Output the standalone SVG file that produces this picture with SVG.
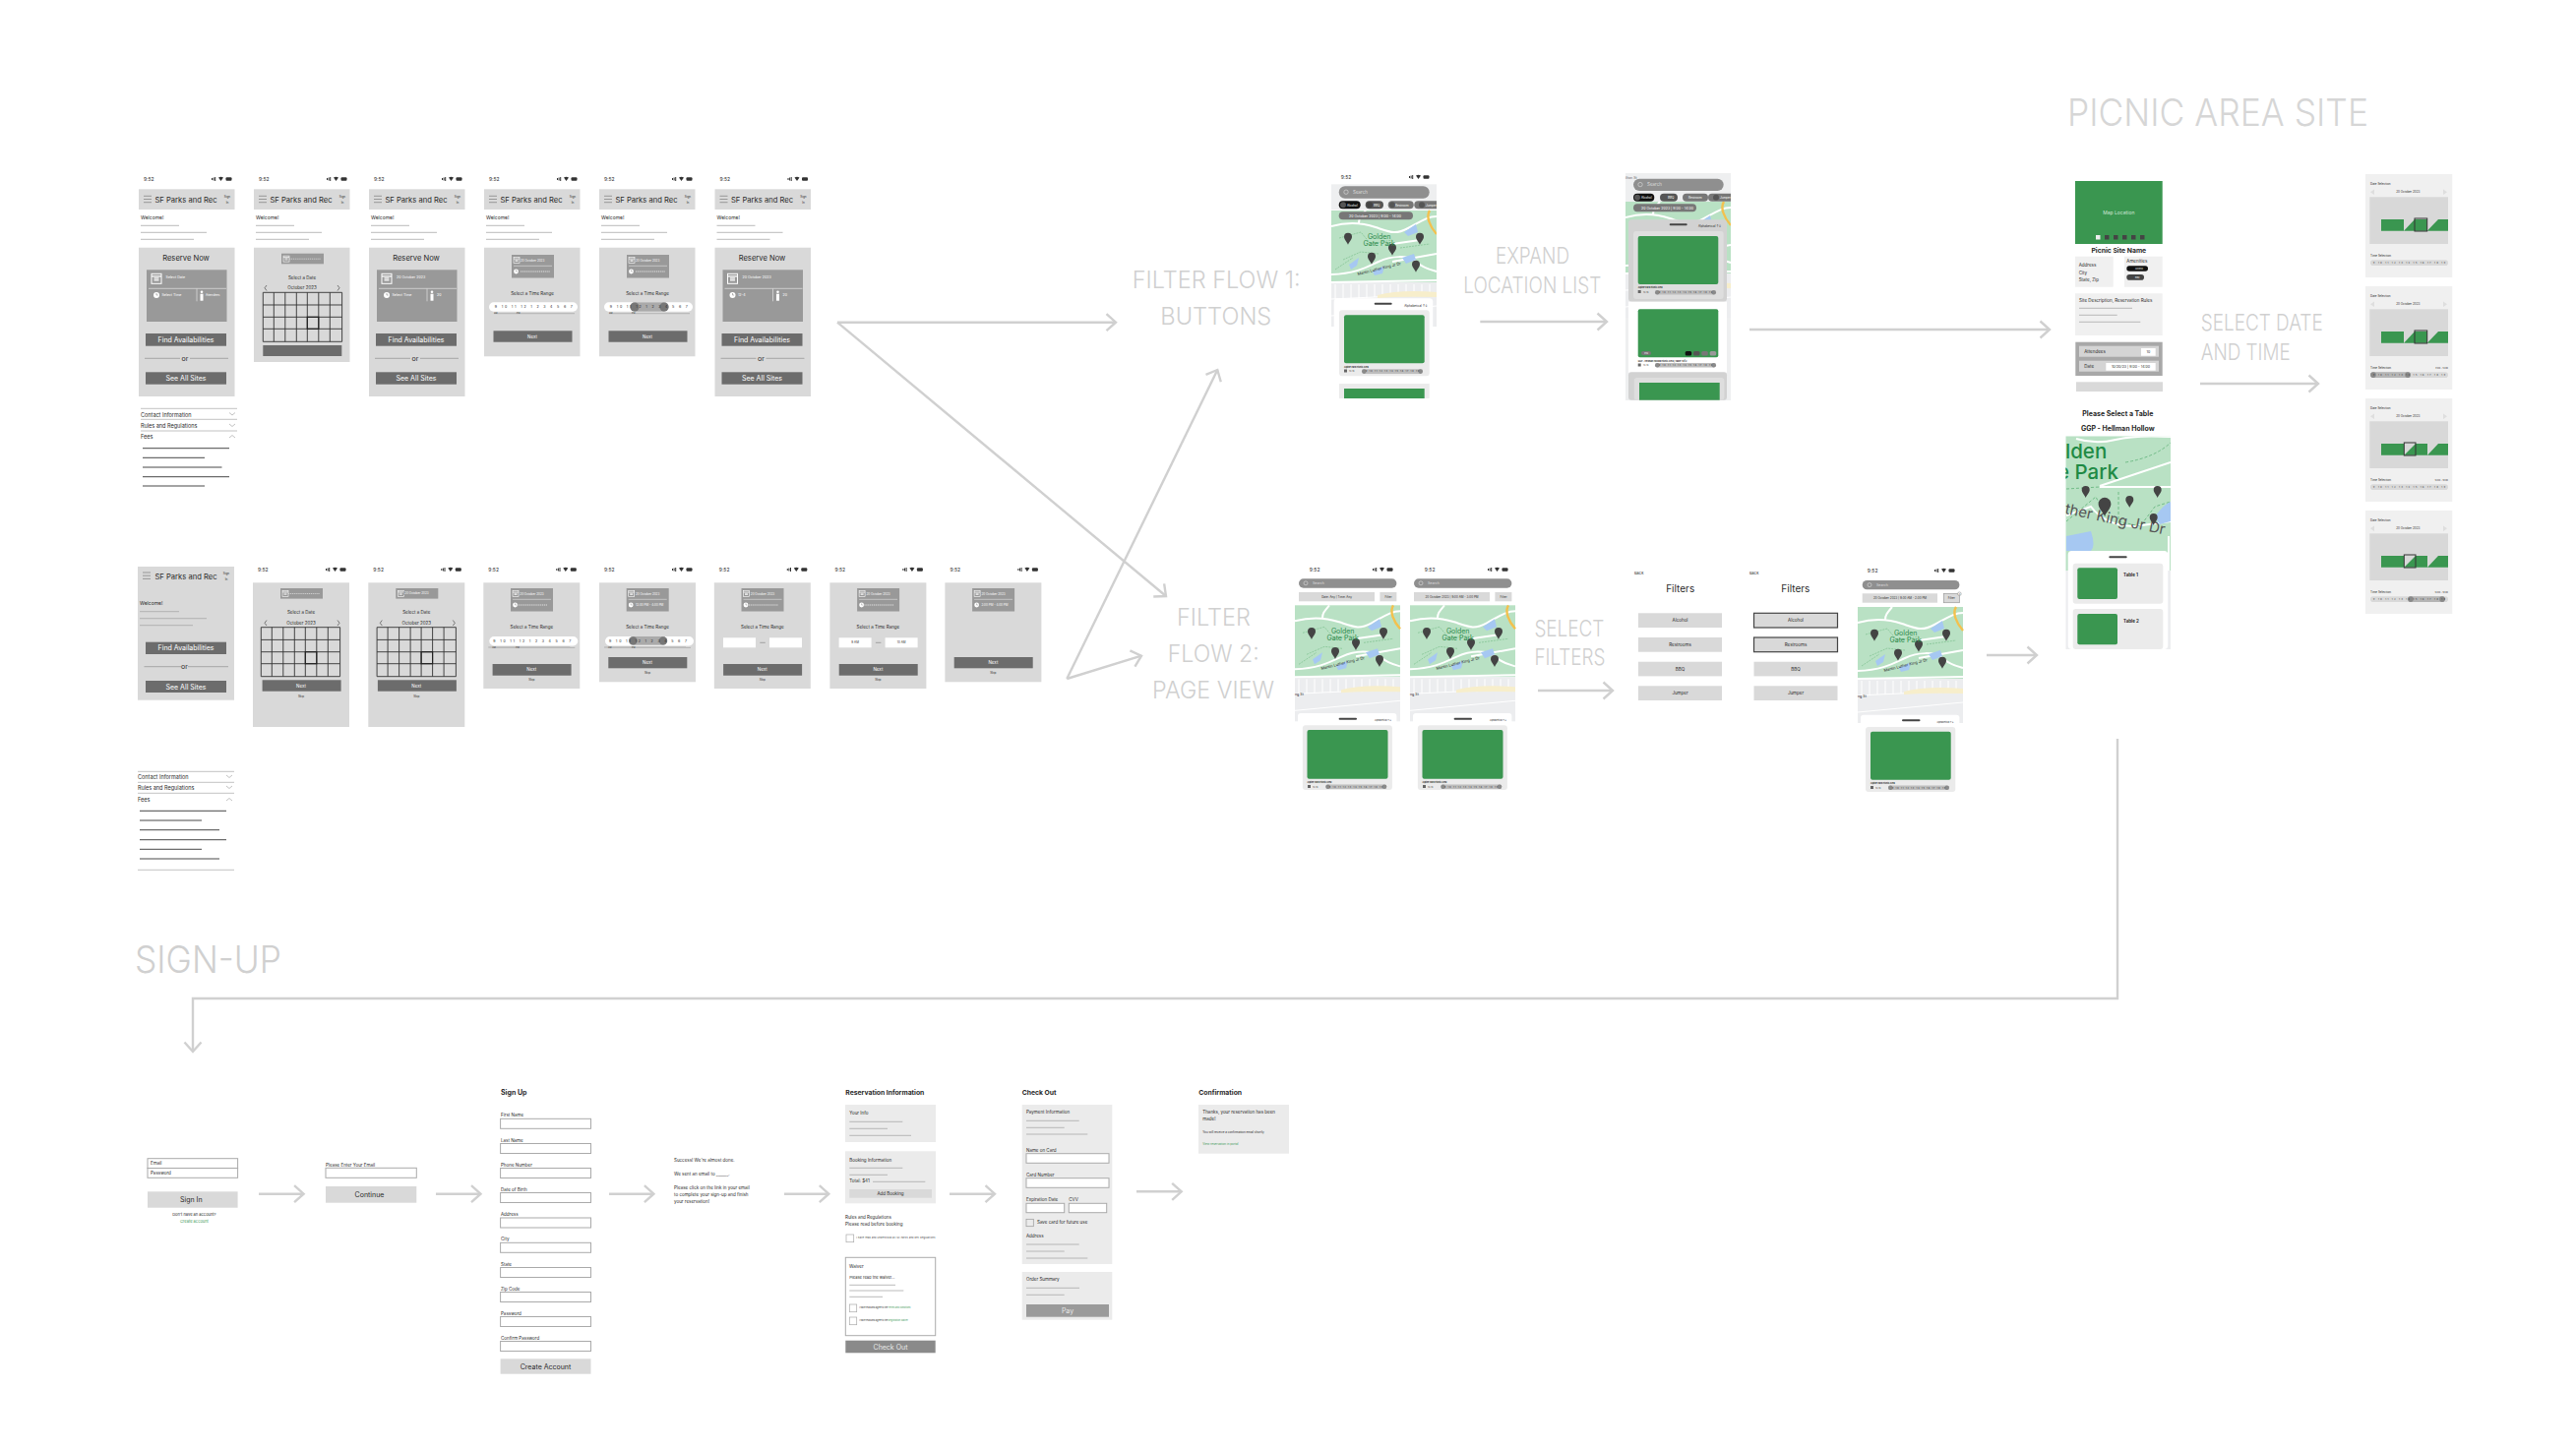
<svg xmlns="http://www.w3.org/2000/svg" width="2618" height="1473" viewBox="0 0 2618 1473">
<style>
text{font-family:Inter,"Liberation Sans",sans-serif;fill:#2a2a2a}
.m{text-anchor:middle}.e{text-anchor:end}
.w{fill:#fff}.b{font-weight:700}.gr{fill:#3f9a5a}.mut{fill:#666}
.s2{font-size:2.2px}.s3{font-size:3px}.s35{font-size:3.6px}.s4{font-size:4px}.s45{font-size:4.5px}.s5{font-size:5px}.s55{font-size:5.5px}.s6{font-size:6px}.s7{font-size:7px}.s8{font-size:7.6px}.s10{font-size:10px}
.h{font-size:24.5px;font-weight:300;fill:#d0d0d0}
.h2{font-size:23px;font-weight:300;fill:#d0d0d0}
.g{fill:#d9d9d9}.d{fill:#999}.k{fill:#6c6c6c}.l{fill:#ebebeb}.f{fill:#f0f0f0}.in{fill:#fff;stroke:#aaa;stroke-width:1}
.ln{stroke:#a8a8a8;stroke-width:.8;fill:none}.dk{stroke:#333;stroke-width:.9;fill:none}.acc{stroke:#bbb;stroke-width:.9;fill:none}
.img{fill:#3a9650}
.con{fill:none;stroke:#d0d0d0;stroke-width:2.4;marker-end:url(#ah)}
</style>
<defs>
<marker id="ah" markerUnits="userSpaceOnUse" markerWidth="24" markerHeight="24" refX="12" refY="12" orient="auto"><path d="M2.5 3.5L12 12L2.5 20.5" fill="none" stroke="#d0d0d0" stroke-width="2.4"/></marker>
<g id="status"><rect x="0" y="-1" width="1" height="2" fill="#333"/><rect x="1.6" y="-1.5" width="1" height="3" fill="#333"/><rect x="3.2" y="-2" width="1" height="4" fill="#333"/><path d="M7-1.5Q9.5-3.2 12-1.5L9.5 2Z" fill="#333"/><rect x="14.5" y="-1.8" width="6" height="3.6" rx="1" fill="#333"/></g>
<g id="burger"><path d="M0 0H8M0 3.2H8M0 6.4H8" stroke="#888" stroke-width=".8"/></g>
<g id="wlines"><path class="ln" d="M2 229.3H41M2 236.3H69M2 243.3H56"/></g>
<g id="calicon"><rect x="0" y="1" width="10" height="10" fill="none" stroke="#fff" stroke-width="1"/><path d="M0 3.5H10M2.5 5.5H7.5M2.5 7.5H7.5" stroke="#fff" stroke-width="1.2"/></g>
<g id="person"><circle cx="3" cy="1.3" r="1.3" fill="#fff"/><rect x="1.5" y="3.2" width="3" height="7" fill="#fff"/></g>
<g id="clock"><circle r="3" fill="#fff"/><path d="M0-2V0H1.6" stroke="#888" stroke-width=".6" fill="none"/></g>
<g id="innerbase"><rect class="d" width="81.5" height="52.7"/><path d="M2 19H81M51 19V32" stroke="#d9d9d9" stroke-width=".8" fill="none"/><use href="#calicon" x="5" y="3"/><use href="#clock" x="10" y="25.7"/></g>
<g id="box2"><rect class="d" width="43" height="23.5"/><path d="M2 11.3H41" stroke="#d9d9d9" stroke-width=".7"/><use href="#calicon" transform="translate(2 2) scale(.6)"/><use href="#clock" transform="translate(4.5 17) scale(.8)"/></g>
<g id="box1"><rect class="d" width="43" height="10.6"/><use href="#calicon" transform="translate(2 1.8) scale(.6)"/><path d="M8 5.5H40" stroke="#e4e4e4" stroke-width=".7" stroke-dasharray="1.2 .7"/></g>
<path id="dash" d="M0 0H30" stroke="#fff" stroke-width=".7" stroke-dasharray="1.2 .7"/>
<g id="cal"><path class="dk" d="M0 0H80.3V50H0ZM11 0V50M22.5 0V50M34 0V50M45 0V50M56.5 0V50M68 0V50M0 12.7H80.3M0 25H80.3M0 37H80.3"/><rect x="45" y="25" width="11.5" height="12" fill="none" stroke="#222" stroke-width="1.2"/></g>
<g id="slider"><rect width="90" height="9.4" rx="4.7" fill="#fff"/><path d="M5 11.4H87" stroke="#aaa" stroke-width=".8"/></g>
<path id="pin" fill="#444" d="M0 0C-1-3-4-5-4-8A4 4 0 1 1 4-8C4-5 1-3 0 0Z"/>
<g id="map">
<rect width="107" height="73" fill="#b9e1c4"/>
<rect y="73" width="107" height="45" fill="#ecedef"/>
<path d="M4 75V90M12 75V90M20 75V89M28 75V89M36 75V89M44 75V88M52 75V88M60 75V88M68 75V88M76 75V87M84 75V87M92 75V87M100 75V87M0 90L107 85M0 107L107 97" stroke="#fff" stroke-width="1" fill="none"/>
<path d="M47 86Q70 80 107 83V88Q70 87 47 89Z" fill="#f7eecb"/>
<path d="M0 16C15 12 30 12 45 17S65 25 78 18S98 6 107 6M35 0C30 6 28 8 28 13M62 52L107 44M0 65C25 64 35 58 48 52S78 45 86 52S100 60 107 62M62 34L90 30M0 73L107 71" stroke="#fff" stroke-width="2" fill="none"/>
<path d="M100 0C96 6 100 16 107 24" stroke="#f3c14e" stroke-width="2.4" fill="none"/>
<path d="M8 28L30 22L40 34L62 30M12 50L30 42L48 44M70 38L100 34M4 60L22 48" stroke="#7cc08e" stroke-width=".7" stroke-dasharray="2 1" fill="none"/>
<path d="M74 22L86 14L88 22L78 26Z" fill="#a6c8f2"/>
<path d="M18 55L28 48L26 56L20 60Z" fill="#a6c8f2"/>
<path d="M72 48L84 44L86 50L76 54Z" fill="#a6c8f2"/>
<path d="M42 62L54 56L52 64L44 66Z" fill="#a6c8f2"/>
<use href="#pin" x="17" y="34.7"/><use href="#pin" x="62" y="45.7"/><use href="#pin" x="41" y="54.7"/><use href="#pin" x="90" y="34.7"/><use href="#pin" x="86" y="62.7"/>
</g>
<g id="sheet"><rect width="100.6" height="80" rx="3.5" fill="#fff"/><rect x="41" y="4.5" width="18" height="2" rx="1" fill="#444"/></g>
<g id="card"><rect width="91.7" height="67" rx="3" class="l"/><rect x="5" y="5" width="81.7" height="49" rx="2" class="img"/></g>
<g id="tpill"><rect width="62" height="4.6" rx="2.3" fill="#bdbdbd"/><circle cx="2.3" cy="2.3" r="2.3" fill="#8a8a8a"/><circle cx="59.7" cy="2.3" r="2.3" fill="#8a8a8a"/></g>
<g id="dpanel"><rect width="88.3" height="105" class="f"/><rect x="4.3" y="23.3" width="79.7" height="47.7" fill="#d8d8d8"/><path d="M9 15.5V21L5 18.3ZM79 15.5V21L83 18.3Z" fill="#dedede"/><rect x="5" y="87.3" width="79" height="5.7" rx="2.8" fill="#d9d9d9"/></g>
<clipPath id="hm"><rect x="2099.3" y="443.3" width="106.7" height="216.7"/></clipPath>
<clipPath id="ca"><rect x="1353" y="180" width="107" height="225"/></clipPath>
<clipPath id="cb"><rect x="1652" y="176" width="107" height="231"/></clipPath>
</defs>

<g id="title-picnic"><text x="2101" y="128" textLength="306" lengthAdjust="spacingAndGlyphs" style="font-size:38.5px;font-weight:300;fill:#d6d6d6">PICNIC AREA SITE</text></g>
<g id="title-signup"><text x="137" y="989" textLength="149" lengthAdjust="spacingAndGlyphs" style="font-size:38px;font-weight:300;fill:#d0d0d0">SIGN-UP</text></g>
<g id="label-filter1"><text class="h" x="1150.7" y="292.7" textLength="171" lengthAdjust="spacingAndGlyphs">FILTER FLOW 1:</text><text class="h" x="1179.3" y="330" textLength="113" lengthAdjust="spacingAndGlyphs">BUTTONS</text></g>
<g id="label-filter2"><text class="h" x="1196" y="636" textLength="75" lengthAdjust="spacingAndGlyphs">FILTER</text><text class="h" x="1186.7" y="672.7" textLength="93" lengthAdjust="spacingAndGlyphs">FLOW 2:</text><text class="h" x="1171" y="710" textLength="124" lengthAdjust="spacingAndGlyphs">PAGE VIEW</text></g>
<g id="label-expand"><text class="h2" x="1520" y="268.3" textLength="75" lengthAdjust="spacingAndGlyphs">EXPAND</text><text class="h2" x="1487.3" y="298.3" textLength="140" lengthAdjust="spacingAndGlyphs">LOCATION LIST</text></g>
<g id="label-date"><text class="h2" x="2236.7" y="335.7" textLength="124" lengthAdjust="spacingAndGlyphs">SELECT DATE</text><text class="h2" x="2236.7" y="365.7" textLength="91" lengthAdjust="spacingAndGlyphs">AND TIME</text></g>
<g id="label-filters"><text class="h2" x="1559.4" y="646.7" textLength="71" lengthAdjust="spacingAndGlyphs">SELECT</text><text class="h2" x="1559.4" y="676" textLength="72" lengthAdjust="spacingAndGlyphs">FILTERS</text></g>

<g id="connectors">
<path class="con" d="M851 327.7H1134"/><path class="con" d="M851 327.7L1185 606"/>
<path class="con" d="M1084.3 690L1237.3 376"/><path class="con" d="M1084.3 690L1160 666.7"/>
<path class="con" d="M1504.3 327H1633"/><path class="con" d="M1778 335H2083"/><path class="con" d="M2236 390H2356"/>
<path class="con" d="M1563 702H1639"/><path class="con" d="M2019 666H2070"/>
<path class="con" d="M2152 751V1015H196V1069"/>
<path class="con" d="M263 1213.7H308.6"/><path class="con" d="M443 1213.7H488.5"/><path class="con" d="M619 1213.7H664.4"/><path class="con" d="M797 1213.7H842.3"/><path class="con" d="M965 1213.7H1011"/><path class="con" d="M1155 1211.3H1200.7"/>
</g>

<!-- ROW 1 -->
<g id="r1-s1" transform="translate(141 0)">
<text class="s5" x="5" y="184">9:52</text><use href="#status" x="74" y="182"/>
<rect class="g" y="192.3" width="97.5" height="20.7"/><use href="#burger" x="5" y="199.3"/>
<text class="s8 m" x="48" y="206">SF Parks and Rec</text><text class="s3 m" x="90" y="201">Sign</text><text class="s3 m" x="90" y="206.8">In</text>
<text class="s5" x="2" y="222.5">Welcome!</text><use href="#wlines"/>
<rect class="g" y="251.7" width="97.5" height="151.3"/>
<text class="s8 m" x="48" y="265">Reserve Now</text>
<use href="#innerbase" x="8" y="274.3"/><use href="#person" x="61" y="295.5"/>
<text class="s35 w" x="27.6" y="283.2">Select Date</text><text class="s35 w" x="23.4" y="301.2">Select Time</text><text class="s3 w" x="68" y="301">Attendees</text>
<rect class="k" x="7" y="339" width="82" height="12.7"/><text class="s7 m w" x="48" y="348">Find Availabilities</text>
<path d="M6 364.3H42M52 364.3H91" stroke="#999" stroke-width=".8"/><text class="s7 m" x="47" y="367">or</text>
<rect class="k" x="7" y="378.3" width="82" height="12.4"/><text class="s7 m w" x="48" y="387">See All Sites</text>
<path class="acc" d="M2 415.3H100M2 426.3H100M2 438H100"/>
<text class="s55" x="2" y="423.5">Contact Information</text><text class="s55" x="2" y="434.5">Rules and Regulations</text><text class="s55" x="2" y="446.2">Fees</text>
<path d="M92 419.5L95 422L98 419.5M92 431L95 433.5L98 431M92 445L95 442.5L98 445" fill="none" stroke="#999" stroke-width=".6"/>
<path class="dk" d="M4 455.7H92M4 465.3H67M4 475H84.5M4 484.7H92M4 494H67"/>
</g>
<g id="r1-s2" transform="translate(258 0)">
<text class="s5" x="5" y="184">9:52</text><use href="#status" x="74" y="182"/>
<rect class="g" y="192.3" width="97.5" height="20.7"/><use href="#burger" x="5" y="199.3"/>
<text class="s8 m" x="48" y="206">SF Parks and Rec</text><text class="s3 m" x="90" y="201">Sign</text><text class="s3 m" x="90" y="206.8">In</text>
<text class="s5" x="2" y="222.5">Welcome!</text><use href="#wlines"/>
<rect class="g" y="251.7" width="97.5" height="116.3"/>
<use href="#box1" x="28" y="257.7"/>
<text class="s45 m" x="49" y="283.6">Select a Date</text><text class="s45 m" x="49" y="294.4">October 2023</text>
<path d="M13 290L11 292.7L13 295.5M85 290L87 292.7L85 295.5" fill="none" stroke="#333" stroke-width=".6"/>
<use href="#cal" x="9.3" y="297.3"/>
<rect class="k" x="9.3" y="351" width="80" height="11"/>
</g>
<g id="r1-s3" transform="translate(375 0)">
<text class="s5" x="5" y="184">9:52</text><use href="#status" x="74" y="182"/>
<rect class="g" y="192.3" width="97.5" height="20.7"/><use href="#burger" x="5" y="199.3"/>
<text class="s8 m" x="48" y="206">SF Parks and Rec</text><text class="s3 m" x="90" y="201">Sign</text><text class="s3 m" x="90" y="206.8">In</text>
<text class="s5" x="2" y="222.5">Welcome!</text><use href="#wlines"/>
<rect class="g" y="251.7" width="97.5" height="151.3"/>
<text class="s8 m" x="48" y="265">Reserve Now</text>
<use href="#innerbase" x="8" y="274.3"/><use href="#person" x="61" y="295.5"/>
<text class="s35 w" x="28" y="283.2">20 October 2023</text><text class="s35 w" x="23.4" y="301.2">Select Time</text><text class="s35 w" x="69" y="301.2">20</text>
<rect class="k" x="7" y="339" width="82" height="12.7"/><text class="s7 m w" x="48" y="348">Find Availabilities</text>
<path d="M6 364.3H42M52 364.3H91" stroke="#999" stroke-width=".8"/><text class="s7 m" x="47" y="367">or</text>
<rect class="k" x="7" y="378.3" width="82" height="12.4"/><text class="s7 m w" x="48" y="387">See All Sites</text>
</g>
<g id="r1-s4" transform="translate(492 0)">
<text class="s5" x="5" y="184">9:52</text><use href="#status" x="74" y="182"/>
<rect class="g" y="192.3" width="97.5" height="20.7"/><use href="#burger" x="5" y="199.3"/>
<text class="s8 m" x="48" y="206">SF Parks and Rec</text><text class="s3 m" x="90" y="201">Sign</text><text class="s3 m" x="90" y="206.8">In</text>
<text class="s5" x="2" y="222.5">Welcome!</text><use href="#wlines"/>
<rect class="g" y="251.7" width="97.5" height="110.6"/>
<use href="#box2" x="28" y="259"/><text class="s3 w" x="37" y="266">20 October 2023</text><use href="#dash" x="37" y="276"/>
<text class="s45 m" x="49" y="300">Select a Time Range</text>
<use href="#slider" x="5" y="307.3"/><text class="s35" x="10.8" y="313.3" textLength="79">9 10 11 12 1 2 3 4 5 6 7</text><text class="s2" x="10" y="319">AM</text><text class="s2" x="33" y="319">PM</text>
<rect class="k" x="9.5" y="336.3" width="80" height="11.4"/><text class="s45 m w" x="49" y="343.6">Next</text>
</g>
<g id="r1-s5" transform="translate(609 0)">
<text class="s5" x="5" y="184">9:52</text><use href="#status" x="74" y="182"/>
<rect class="g" y="192.3" width="97.5" height="20.7"/><use href="#burger" x="5" y="199.3"/>
<text class="s8 m" x="48" y="206">SF Parks and Rec</text><text class="s3 m" x="90" y="201">Sign</text><text class="s3 m" x="90" y="206.8">In</text>
<text class="s5" x="2" y="222.5">Welcome!</text><use href="#wlines"/>
<rect class="g" y="251.7" width="97.5" height="110.6"/>
<use href="#box2" x="28" y="259"/><text class="s3 w" x="37" y="266">20 October 2023</text><use href="#dash" x="37" y="276"/>
<text class="s45 m" x="49" y="300">Select a Time Range</text>
<use href="#slider" x="5" y="307.3"/><rect x="31.5" y="307.3" width="39" height="9.4" rx="4.7" fill="#aaa"/><circle cx="36" cy="312" r="4.6" fill="#777"/><circle cx="66" cy="312" r="4.6" fill="#777"/><text class="s35" x="10.8" y="313.3" textLength="79">9 10 11 12 1 2 3 4 5 6 7</text><text class="s2" x="10" y="319">AM</text><text class="s2" x="33" y="319">PM</text>
<rect class="k" x="9.5" y="336.3" width="80" height="11.4"/><text class="s45 m w" x="49" y="343.6">Next</text>
</g>
<g id="r1-s6" transform="translate(726.5 0)">
<text class="s5" x="5" y="184">9:52</text><use href="#status" x="74" y="182"/>
<rect class="g" y="192.3" width="97.5" height="20.7"/><use href="#burger" x="5" y="199.3"/>
<text class="s8 m" x="48" y="206">SF Parks and Rec</text><text class="s3 m" x="90" y="201">Sign</text><text class="s3 m" x="90" y="206.8">In</text>
<text class="s5" x="2" y="222.5">Welcome!</text><use href="#wlines"/>
<rect class="g" y="251.7" width="97.5" height="151.3"/>
<text class="s8 m" x="48" y="265">Reserve Now</text>
<use href="#innerbase" x="8" y="274.3"/><use href="#person" x="61" y="295.5"/>
<text class="s35 w" x="28" y="283.2">20 October 2023</text><text class="s35 w" x="23.4" y="301.2">12-4</text><text class="s35 w" x="69" y="301.2">20</text>
<rect class="k" x="7" y="339" width="82" height="12.7"/><text class="s7 m w" x="48" y="348">Find Availabilities</text>
<path d="M6 364.3H42M52 364.3H91" stroke="#999" stroke-width=".8"/><text class="s7 m" x="47" y="367">or</text>
<rect class="k" x="7" y="378.3" width="82" height="12.4"/><text class="s7 m w" x="48" y="387">See All Sites</text>
</g>

<!-- ROW 2 -->
<g id="r2-s1" transform="translate(140 0)">
<rect class="g" y="576" width="98" height="135.7"/><use href="#burger" x="5" y="582"/>
<text class="s8 m" x="49" y="589">SF Parks and Rec</text><text class="s3 m" x="90" y="584">Sign</text><text class="s3 m" x="90" y="589.8">In</text>
<text class="s5" x="2" y="614.8">Welcome!</text><path class="ln" d="M2 621.7H42M2 628.7H70M2 635.7H56"/>
<rect class="k" x="8" y="652.7" width="82" height="12.3"/><text class="s7 m w" x="49" y="661.4">Find Availabilities</text>
<path d="M6.5 677.7H44M51 677.7H92" stroke="#999" stroke-width=".8"/><text class="s7 m" x="47.5" y="680.4">or</text>
<rect class="k" x="8" y="692" width="82" height="12"/><text class="s7 m w" x="49" y="700.5">See All Sites</text>
<path class="acc" d="M0 784.3H98M0 795.3H98M0 806.3H98M0 884.3H98"/>
<text class="s55" x="0" y="792">Contact Information</text><text class="s55" x="0" y="803.2">Rules and Regulations</text><text class="s55" x="0" y="815.2">Fees</text>
<path d="M90 788L93 790.5L96 788M90 799L93 801.5L96 799M90 814L93 811.5L96 814" fill="none" stroke="#999" stroke-width=".6"/>
<path class="dk" d="M2 824.3H90M2 834H65M2 843.7H83M2 853.7H90M2 863.3H65M2 873H83"/>
</g>
<g id="r2-s2" transform="translate(257 0)">
<text class="s5" x="5" y="581">9:52</text><use href="#status" x="74" y="579"/>
<rect class="g" y="592.3" width="98" height="146.7"/><use href="#box1" x="28" y="598"/>
<text class="s45 m" x="49" y="624">Select a Date</text><text class="s45 m" x="49" y="635">October 2023</text>
<path d="M14 630.5L12 633.3L14 636M86 630.5L88 633.3L86 636" fill="none" stroke="#333" stroke-width=".6"/>
<use href="#cal" x="8.3" y="637.7"/>
<rect class="k" x="9.6" y="691.3" width="80" height="11.4"/><text class="s45 m w" x="49" y="698.5">Next</text><text class="s3 m" x="49" y="708.8">Skip</text>
</g>
<g id="r2-s3" transform="translate(374.3 0)">
<text class="s5" x="5" y="581">9:52</text><use href="#status" x="74" y="579"/>
<rect class="g" y="592.3" width="98" height="146.7"/><use href="#box1" x="28" y="598"/><rect x="36" y="601" width="32" height="4" fill="#999"/><text class="s3 w" x="37" y="604.2">20 October 2023</text>
<text class="s45 m" x="49" y="624">Select a Date</text><text class="s45 m" x="49" y="635">October 2023</text>
<path d="M14 630.5L12 633.3L14 636M86 630.5L88 633.3L86 636" fill="none" stroke="#333" stroke-width=".6"/>
<use href="#cal" x="8.8" y="637.7"/>
<rect class="k" x="9.6" y="691.3" width="80" height="11.4"/><text class="s45 m w" x="49" y="698.5">Next</text><text class="s3 m" x="49" y="708.8">Skip</text>
</g>
<g id="r2-s4" transform="translate(491.3 0)">
<text class="s5" x="5" y="581">9:52</text><use href="#status" x="74" y="579"/>
<rect class="g" y="592.3" width="98" height="107.7"/><use href="#box2" x="27.7" y="598"/><text class="s3 w" x="37" y="605">20 October 2023</text><use href="#dash" x="35" y="615"/>
<text class="s45 m" x="49" y="639.3">Select a Time Range</text>
<use href="#slider" x="6" y="647"/><text class="s35" x="10" y="653" textLength="79">9 10 11 12 1 2 3 4 5 6 7</text><path d="M5 658H88" stroke="#bbb" stroke-width="1.4"/><text class="s2" x="9" y="658.8">AM</text><text class="s2" x="33" y="658.8">PM</text>
<rect class="k" x="9.3" y="675" width="80" height="11.7"/><text class="s45 m w" x="49" y="682.4">Next</text><text class="s3 m" x="49" y="692.4">Skip</text>
</g>
<g id="r2-s5" transform="translate(609 0)">
<text class="s5" x="5" y="581">9:52</text><use href="#status" x="74" y="579"/>
<rect class="g" y="592.3" width="98" height="101"/><use href="#box2" x="27.7" y="598"/><text class="s3 w" x="37" y="605">20 October 2023</text><text class="s3 w" x="37" y="616">12:00 PM - 4:00 PM</text>
<text class="s45 m" x="49" y="639.3">Select a Time Range</text>
<use href="#slider" x="6" y="647"/><rect x="30" y="647" width="39" height="8.7" rx="4.3" fill="#aaa"/><circle cx="34.5" cy="651.4" r="4.2" fill="#777"/><circle cx="65" cy="651.4" r="4.2" fill="#777"/><text class="s35" x="10" y="653" textLength="79">9 10 11 12 1 2 3 4 5 6 7</text><path d="M5 658H88" stroke="#bbb" stroke-width="1.4"/><text class="s2" x="9" y="658.8">AM</text><text class="s2" x="33" y="658.8">PM</text>
<rect class="k" x="9.3" y="668" width="80" height="11.3"/><text class="s45 m w" x="49" y="675.2">Next</text><text class="s3 m" x="49" y="685.2">Skip</text>
</g>
<g id="r2-s6" transform="translate(725.8 0)">
<text class="s5" x="5" y="581">9:52</text><use href="#status" x="74" y="579"/>
<rect class="g" y="592.3" width="98" height="107.7"/><use href="#box2" x="27.7" y="598"/><text class="s3 w" x="37" y="605">20 October 2023</text><use href="#dash" x="35" y="615"/>
<text class="s45 m" x="49" y="639.3">Select a Time Range</text>
<rect x="9.2" y="648.3" width="33" height="10" fill="#fff"/><rect x="56.2" y="648.3" width="33" height="10" fill="#fff"/><path d="M46.5 653.3H52" stroke="#888" stroke-width=".7"/>
<rect class="k" x="9.3" y="675" width="80" height="11.7"/><text class="s45 m w" x="49" y="682.4">Next</text><text class="s3 m" x="49" y="692.4">Skip</text>
</g>
<g id="r2-s7" transform="translate(843.4 0)">
<text class="s5" x="5" y="581">9:52</text><use href="#status" x="74" y="579"/>
<rect class="g" y="592.3" width="98" height="107.7"/><use href="#box2" x="27.7" y="598"/><text class="s3 w" x="37" y="605">20 October 2023</text><use href="#dash" x="35" y="615"/>
<text class="s45 m" x="49" y="639.3">Select a Time Range</text>
<rect x="9.2" y="648.3" width="33" height="10" fill="#fff"/><rect x="56.2" y="648.3" width="33" height="10" fill="#fff"/><path d="M46.5 653.3H52" stroke="#888" stroke-width=".7"/><text class="s3 m" x="25.7" y="654.4">9 AM</text><text class="s3 m" x="72.7" y="654.4">10 AM</text>
<rect class="k" x="9.3" y="675" width="80" height="11.7"/><text class="s45 m w" x="49" y="682.4">Next</text><text class="s3 m" x="49" y="692.4">Skip</text>
</g>
<g id="r2-s8" transform="translate(960.4 0)">
<text class="s5" x="5" y="581">9:52</text><use href="#status" x="74" y="579"/>
<rect class="g" y="592.3" width="98" height="101"/><use href="#box2" x="27.7" y="598"/><text class="s3 w" x="37" y="605">20 October 2023</text><text class="s3 w" x="37" y="616">2:00 PM - 4:00 PM</text>
<rect class="k" x="9.3" y="668" width="80" height="11.3"/><text class="s45 m w" x="49" y="675.2">Next</text><text class="s3 m" x="49" y="685.2">Skip</text>
</g>

<!-- FILTER FLOW 1 -->
<g id="flow1-a">
<text class="s5" x="1362.7" y="182">9:52</text><use href="#status" x="1432" y="180"/>
<rect x="1353" y="187.3" width="107" height="26" fill="#eeeff0"/>
<g clip-path="url(#ca)"><use href="#map" x="1353" y="214"/></g>
<text class="s7 m" x="1401.7" y="243" style="fill:#2a8a4a">Golden</text><text class="s7 m" x="1401.7" y="250" style="fill:#2a8a4a">Gate Park</text>
<text class="s4" transform="translate(1380 280) rotate(-14)">Martin Luther King Jr Dr</text>
<rect x="1360.7" y="189.3" width="92" height="12.4" rx="6.2" fill="#8f8f8f"/><circle cx="1368" cy="195.2" r="2.2" fill="none" stroke="#ddd" stroke-width=".6"/><text class="s45" x="1375" y="197" style="fill:#ddd">Search</text>
<rect x="1360.7" y="204.3" width="22" height="8" rx="4" fill="#111"/><circle cx="1365" cy="208.3" r="3" fill="#555"/><text class="s3 w" x="1369" y="209.5">Alcohol</text>
<rect x="1387.7" y="204.3" width="18.3" height="8" rx="4" fill="#555"/><circle cx="1392" cy="208.3" r="3" fill="#444"/><text class="s3 w" x="1396" y="209.5">BBQ</text>
<rect x="1410.7" y="204.3" width="26" height="8" rx="4" fill="#777"/><circle cx="1415" cy="208.3" r="3" fill="#555"/><text class="s3 w" x="1418" y="209.5">Restroom</text>
<path d="M1441.3 204.3H1460V212.3H1441.3A4 4 0 0 1 1441.3 204.3Z" fill="#777"/><circle cx="1445" cy="208.3" r="3" fill="#555"/><text class="s3 w" x="1449" y="209.5">Jumper</text>
<rect x="1360.7" y="215.3" width="75.3" height="8" rx="4" fill="#777"/><text class="s35 w" x="1371" y="220.6">20 October 2023 | 9:00 - 14:00</text>
<use href="#sheet" x="1355.7" y="303.3" /><rect x="1355.7" y="380" width="100.6" height="25" fill="#fff"/>
<use href="#card" x="1361" y="315.3"/><text class="s2 b" x="1366" y="373.5">Alpine Park Picnic Area</text><rect x="1366" y="375.5" width="3" height="3" fill="#666"/><text class="s2" x="1371" y="378">12-14</text><use href="#tpill" x="1384" y="375.3"/><text class="s2" x="1388" y="378.4" textLength="54">9 10 11 12 13 14 15 16 17 18 19</text>
<text class="s3 e" x="1450.7" y="311.5">Alphabetical ↑↓</text>
<rect x="1361" y="390" width="91.7" height="15" class="l"/><rect x="1366" y="395" width="81.7" height="10" class="img"/>
</g>
<g id="flow1-b">
<rect x="1652" y="176" width="107" height="231" fill="#eeeff0"/>
<g clip-path="url(#cb)"><use href="#map" x="1652" y="205"/></g>
<rect x="1655" y="223.3" width="100" height="83.4" rx="3.5" fill="#d2d2d2"/>
<text class="s35 mut" x="1652" y="182">ilton St</text>
<rect x="1660" y="181.7" width="91.7" height="12.3" rx="6.2" fill="#8f8f8f"/><circle cx="1667" cy="187.6" r="2.2" fill="none" stroke="#ddd" stroke-width=".6"/><text class="s45" x="1674" y="189.4" style="fill:#ddd">Search</text>
<rect x="1660" y="196.7" width="21.3" height="8" rx="4" fill="#111"/><circle cx="1664" cy="200.7" r="3" fill="#555"/><text class="s3 w" x="1668" y="201.9">Alcohol</text>
<rect x="1687" y="196.7" width="18" height="8" rx="4" fill="#555"/><text class="s3 w" x="1695" y="201.9">BBQ</text>
<rect x="1710" y="196.7" width="26" height="8" rx="4" fill="#777"/><text class="s3 w" x="1716" y="201.9">Restroom</text>
<path d="M1740 196.7H1759V204.7H1740A4 4 0 0 1 1740 196.7Z" fill="#777"/><circle cx="1744" cy="200.7" r="3" fill="#555"/><text class="s3 w" x="1748" y="201.9">Jumper</text>
<rect x="1660" y="207.3" width="64" height="8" rx="4" fill="#777"/><text class="s35 w" x="1668" y="212.6">20 October 2023 | 9:00 - 14:00</text>
<rect x="1696.7" y="227.3" width="18" height="2" rx="1" fill="#444"/><text class="s3 e" x="1749.3" y="231">Alphabetical ↑↓</text>
<rect x="1660" y="235" width="91.7" height="69" rx="3" fill="#dedede"/><rect x="1664.7" y="240" width="81.6" height="49" rx="2" class="img"/><text class="s2 b" x="1664.7" y="293">Alpine Park Picnic Area</text><rect x="1664.7" y="295" width="3" height="3" fill="#666"/><text class="s2" x="1670" y="297.7">12-14</text><use href="#tpill" x="1682" y="295"/><text class="s2" x="1686" y="298" textLength="54">9 10 11 12 13 14 15 16 17 18 19</text>
<rect x="1655" y="306.7" width="100" height="72" fill="#fff"/><rect x="1660" y="309.3" width="91.7" height="69" fill="#fff"/><rect x="1664.7" y="314.3" width="81.6" height="49" rx="2" class="img"/>
<rect x="1668" y="357" width="10" height="4" rx="2" fill="#777"/><text class="s2 w m" x="1673" y="359.8">PIN</text><rect x="1712.7" y="357" width="6.5" height="4.4" rx="1.5" fill="#111"/><rect x="1721" y="357" width="6.5" height="4.4" rx="1.5" fill="#555"/><rect x="1729.3" y="357" width="6.5" height="4.4" rx="1.5" fill="#777"/><rect x="1737.7" y="357" width="6.5" height="4.4" rx="1.5" fill="#999"/>
<text class="s2 b" x="1664.7" y="368">GGP - Hellman Hollow Picnic Area | Table 1 of 2</text><rect x="1664.7" y="369.5" width="3" height="3" fill="#666"/><text class="s2" x="1670" y="372">12-14</text><use href="#tpill" x="1682" y="369"/><text class="s2" x="1686" y="372.2" textLength="54">9 10 11 12 13 14 15 16 17 18 19</text>
<rect x="1655" y="378.3" width="100" height="28.4" rx="3" fill="#d2d2d2"/><rect x="1660.7" y="384" width="91.7" height="22.7" rx="3" fill="#dedede"/><rect x="1666" y="389" width="81.7" height="17.7" class="img"/>
</g>

<!-- FILTER FLOW 2 -->
<g id="flow2-c">
<text class="s5" x="1330.8" y="581">9:52</text><use href="#status" x="1395" y="579"/>
<use href="#map" x="1316" y="615.3"/>
<text class="s7 m" x="1364.7" y="644" style="fill:#2a8a4a">Golden</text><text class="s7 m" x="1364.7" y="651" style="fill:#2a8a4a">Gate Park</text>
<text class="s4" transform="translate(1343 681) rotate(-14)">Martin Luther King Jr Dr</text><text class="s35" x="1316" y="707">ng St</text>
<rect x="1320" y="588.3" width="99.4" height="9.4" rx="4.7" fill="#8f8f8f"/><circle cx="1327" cy="592.8" r="2" fill="none" stroke="#ddd" stroke-width=".6"/><text class="s35" x="1334" y="594.4" style="fill:#ddd">Search</text>
<rect class="g" x="1320" y="602" width="77" height="9.3"/><text class="s3 m" x="1358.5" y="607.8">Date: Any | Time: Any</text>
<rect class="g" x="1402.4" y="602" width="17" height="9.3"/><text class="s3 m" x="1411" y="607.8">Filter</text>
<rect x="1319" y="725" width="100.4" height="78" rx="3" fill="#fff"/><rect x="1360.6" y="729.7" width="18.4" height="2" rx="1" fill="#444"/><text class="s2 e" x="1414" y="733">Alphabetical ↑↓</text>
<rect x="1323.9" y="737.3" width="91" height="65.7" rx="3" class="l"/><rect x="1328.5" y="742" width="82" height="49.7" rx="2" class="img"/><text class="s2 b" x="1328.5" y="795.5">Alpine Park Picnic Area</text><rect x="1329" y="798" width="3" height="3" fill="#666"/><text class="s2" x="1334" y="800.5">12-14</text><use href="#tpill" x="1347.3" y="797.5"/><text class="s2" x="1351" y="800.6" textLength="54">9 10 11 12 13 14 15 16 17 18 19</text>
</g>
<g id="flow2-d">
<text class="s5" x="1447.8" y="581">9:52</text><use href="#status" x="1512" y="579"/>
<use href="#map" x="1433" y="615.3"/>
<text class="s7 m" x="1481.7" y="644" style="fill:#2a8a4a">Golden</text><text class="s7 m" x="1481.7" y="651" style="fill:#2a8a4a">Gate Park</text>
<text class="s4" transform="translate(1460 681) rotate(-14)">Martin Luther King Jr Dr</text><text class="s35" x="1433" y="707">ng St</text>
<rect x="1437" y="588.3" width="99.4" height="9.4" rx="4.7" fill="#8f8f8f"/><circle cx="1444" cy="592.8" r="2" fill="none" stroke="#ddd" stroke-width=".6"/><text class="s35" x="1451" y="594.4" style="fill:#ddd">Search</text>
<rect class="g" x="1437" y="602" width="77" height="9.3"/><text class="s3 m" x="1475.5" y="607.8">20 October 2023 | 9:00 AM - 3:00 PM</text>
<rect class="g" x="1519.4" y="602" width="17" height="9.3"/><text class="s3 m" x="1528" y="607.8">Filter</text>
<rect x="1436" y="725" width="100.4" height="78" rx="3" fill="#fff"/><rect x="1477.6" y="729.7" width="18.4" height="2" rx="1" fill="#444"/><text class="s2 e" x="1531" y="733">Alphabetical ↑↓</text>
<rect x="1440.9" y="737.3" width="91" height="65.7" rx="3" class="l"/><rect x="1445.5" y="742" width="82" height="49.7" rx="2" class="img"/><text class="s2 b" x="1445.5" y="795.5">Alpine Park Picnic Area</text><rect x="1446" y="798" width="3" height="3" fill="#666"/><text class="s2" x="1451" y="800.5">12-14</text><use href="#tpill" x="1464.3" y="797.5"/><text class="s2" x="1468" y="800.6" textLength="54">9 10 11 12 13 14 15 16 17 18 19</text>
</g>
<g id="filters-e">
<text class="s4" x="1661" y="584">Back</text><text class="s10 m" x="1707.7" y="602">Filters</text>
<rect class="g" x="1665" y="623.3" width="85" height="14.7"/><text class="s45 m" x="1707.5" y="632.3">Alcohol</text>
<rect class="g" x="1665" y="648" width="85" height="14.7"/><text class="s45 m" x="1707.5" y="657">Restrooms</text>
<rect class="g" x="1665" y="672.7" width="85" height="14.7"/><text class="s45 m" x="1707.5" y="681.7">BBQ</text>
<rect class="g" x="1665" y="697.3" width="85" height="14.7"/><text class="s45 m" x="1707.5" y="706.3">Jumper</text>
</g>
<g id="filters-f">
<text class="s4" x="1778" y="584">Back</text><text class="s10 m" x="1824.8" y="602">Filters</text>
<rect class="g" x="1782.5" y="623.3" width="85" height="14.7" stroke="#444" stroke-width="1.2"/><text class="s45 m" x="1825" y="632.3">Alcohol</text>
<rect class="g" x="1782.5" y="648" width="85" height="14.7" stroke="#444" stroke-width="1.2"/><text class="s45 m" x="1825" y="657">Restrooms</text>
<rect class="g" x="1782.5" y="672.7" width="85" height="14.7"/><text class="s45 m" x="1825" y="681.7">BBQ</text>
<rect class="g" x="1782.5" y="697.3" width="85" height="14.7"/><text class="s45 m" x="1825" y="706.3">Jumper</text>
</g>
<g id="flow2-g">
<text class="s5" x="1897.8" y="582">9:52</text><use href="#status" x="1966" y="580"/>
<use href="#map" x="1888" y="617"/>
<text class="s7 m" x="1936.7" y="645.7" style="fill:#2a8a4a">Golden</text><text class="s7 m" x="1936.7" y="652.7" style="fill:#2a8a4a">Gate Park</text>
<text class="s4" transform="translate(1915 683) rotate(-14)">Martin Luther King Jr Dr</text><text class="s35" x="1888" y="709">ng St</text>
<rect x="1892.7" y="590" width="98.7" height="9.3" rx="4.6" fill="#8f8f8f"/><circle cx="1900" cy="594.6" r="2" fill="none" stroke="#ddd" stroke-width=".6"/><text class="s35" x="1907" y="596.2" style="fill:#ddd">Search</text>
<rect class="g" x="1892.7" y="603.3" width="76.3" height="9.4"/><text class="s3 m" x="1931" y="609">20 October 2023 | 9:00 AM - 2:00 PM</text>
<rect class="g" x="1975.4" y="603.3" width="16" height="9.4" stroke="#999" stroke-width=".7"/><text class="s3 m" x="1983.4" y="609">Filter</text><circle cx="1991.4" cy="603.7" r="1.8" fill="#fff" stroke="#666" stroke-width=".4"/><text class="s2 m" x="1991.4" y="604.5">2</text>
<rect x="1891" y="726.7" width="100.4" height="78.3" rx="3" fill="#fff"/><rect x="1933" y="731.3" width="18.5" height="2" rx="1" fill="#444"/><text class="s2 e" x="1985.5" y="734.5">Alphabetical ↑↓</text>
<rect x="1896" y="739" width="91.3" height="66" rx="3" class="l"/><rect x="1901" y="743.7" width="81.7" height="49" rx="2" class="img"/><text class="s2 b" x="1901" y="796.5">Alpine Park Picnic Area</text><rect x="1901" y="799" width="3" height="3" fill="#666"/><text class="s2" x="1906" y="801.5">12-14</text><use href="#tpill" x="1919" y="798.5"/><text class="s2" x="1923" y="801.6" textLength="54">9 10 11 12 13 14 15 16 17 18 19</text>
</g>

<!-- PICNIC SITE -->
<g id="site">
<rect class="img" x="2109" y="184" width="88.7" height="64"/><text class="s5 m" x="2153.3" y="218" style="fill:#cfe8d6">Map Location</text>
<rect x="2130" y="239" width="4.5" height="4.5" fill="#eee"/><rect x="2139" y="239" width="4.5" height="4.5" fill="#444"/><rect x="2148" y="239" width="4.5" height="4.5" fill="#444"/><rect x="2157" y="239" width="4.5" height="4.5" fill="#444"/><rect x="2166" y="239" width="4.5" height="4.5" fill="#444"/><rect x="2175" y="239" width="4.5" height="4.5" fill="#444"/>
<text class="s7 m b" x="2153.3" y="257" style="font-size:6.8px">Picnic Site Name</text>
<rect class="f" x="2109" y="260.7" width="38.7" height="31"/><text class="s45" x="2112.7" y="271.3">Address</text><text class="s45" x="2112.7" y="278.5">City</text><text class="s45" x="2112.7" y="285.5">State, Zip</text>
<rect class="f" x="2159" y="260.7" width="38.7" height="31"/><text class="s45" x="2161.3" y="266.5">Amenities</text>
<rect x="2161.3" y="270.3" width="21.7" height="5.4" rx="2.7" fill="#111"/><text class="s2 w" x="2170" y="273.8">Alcohol</text>
<rect x="2161.3" y="279" width="17.7" height="5.7" rx="2.8" fill="#444"/><text class="s2 w" x="2170" y="282.6">BBQ</text>
<rect class="f" x="2109" y="298.3" width="88.7" height="42.7"/><text class="s45" x="2113" y="306.6">Site Description, Reservation Rules</text><path class="ln" d="M2113 313.3H2167M2113 320.3H2151.7M2113 327.3H2175.3"/>
<rect x="2109.3" y="347.7" width="88.4" height="34.3" fill="#a8a8a8"/>
<rect x="2113" y="351.7" width="81" height="11" fill="#d4d4d4"/><text class="s45" x="2118.3" y="358.6">Attendees</text><rect x="2176" y="354" width="14.7" height="7.7" fill="#fff"/><text class="s35 m" x="2183.3" y="359.2">10</text>
<rect x="2113" y="366.7" width="81" height="11" fill="#d4d4d4"/><text class="s45" x="2118.3" y="373.6">Date</text><rect x="2140.3" y="369" width="50.4" height="7.7" fill="#fff"/><text class="s35 m" x="2165.5" y="374.2">10/20/23 | 9:00 - 14:00</text>
<rect class="g" x="2110" y="388.3" width="88" height="9.7"/>
</g>
<g id="table-select">
<text class="s7 m b" x="2152.3" y="422.5">Please Select a Table</text><text class="s7 m b" x="2152.3" y="437.5">GGP - Hellman Hollow</text>
<g clip-path="url(#hm)">
<rect x="2099.3" y="443.3" width="106.7" height="137" fill="#b9e1c4"/><rect x="2099.3" y="580" width="106.7" height="80" fill="#ecedef"/>
<path d="M2110 446Q2130 452 2150 447T2206 444M2134 494L2206 470M2134 495H2206M2204 545V580M2100 524L2125 515Q2140 535 2170 535L2206 530" stroke="#fff" stroke-width="2" fill="none"/>
<path d="M2100 497L2134 495M2100 530L2130 505L2140 525M2153 500V530L2175 535L2190 515L2206 510M2160 470Q2190 465 2206 450" stroke="#5fb378" stroke-width=".8" stroke-dasharray="3 2" fill="none"/>
<path d="M2190 525Q2200 512 2206 510V530L2195 533ZM2100 545L2125 540Q2130 555 2125 560H2100Z" fill="#a6c8f2"/>
<text x="2099" y="465.5" style="font-size:20.5px;font-weight:500;fill:#1f8a45">lden</text><text x="2091" y="486.5" style="font-size:20.5px;font-weight:500;fill:#1f8a45">e Park</text>
<text transform="translate(2098 522) rotate(12)" style="font-size:15px;fill:#555">ther King Jr Dr</text>
<use href="#pin" x="2119.7" y="506"/><use href="#pin" transform="translate(2139 525) scale(1.6)"/><use href="#pin" x="2164.3" y="516"/><use href="#pin" x="2192.7" y="506"/><use href="#pin" x="2188.7" y="534"/>
<rect x="2101.7" y="560" width="101.6" height="100" rx="4" fill="#fff"/><rect x="2143.3" y="565.3" width="18.4" height="2" rx="1" fill="#444"/>
<rect class="l" x="2106.7" y="572.7" width="91.6" height="41" rx="3"/><rect class="img" x="2111.3" y="577.3" width="40.7" height="31.7" rx="2"/><text class="s45 b" x="2158" y="586.2">Table 1</text>
<rect class="l" x="2106.7" y="619" width="91.6" height="41" rx="3"/><rect class="img" x="2111.3" y="624" width="40.7" height="31.3" rx="2"/><text class="s45 b" x="2158" y="632.6">Table 2</text>
</g>
</g>

<!-- DATE PANELS -->
<g id="date-1" transform="translate(2404 177)">
<use href="#dpanel"/><text class="s3" x="5" y="11">Date Selection</text><text class="s3 m" x="43.3" y="19.4">20 October 2023</text>
<path class="img" d="M16 46H39V57.7H16ZM39 57.7L50 46V57.7ZM50 46H62.7V57.7H50ZM62.7 57.7L74 46V57.7ZM74 46H84V57.7H74Z"/>
<rect x="50" y="45" width="12.7" height="13" fill="none" stroke="#333" stroke-width="1"/>
<text class="s3" x="5" y="84">Time Selection</text><text class="s2" x="8" y="91" textLength="73">9 10 11 12 13 14 15 16 17 18 19</text>
</g>
<g id="date-2" transform="translate(2404 291)">
<use href="#dpanel"/><text class="s3" x="5" y="11">Date Selection</text><text class="s3 m" x="43.3" y="19.4">20 October 2023</text>
<path class="img" d="M16 46H39V57.7H16ZM39 57.7L50 46V57.7ZM50 46H62.7V57.7H50ZM62.7 57.7L74 46V57.7ZM74 46H84V57.7H74Z"/>
<rect x="50" y="45" width="12.7" height="13" fill="none" stroke="#333" stroke-width="1"/>
<text class="s3" x="5" y="84">Time Selection</text><text class="s2 e" x="84" y="84">9:00 - 14:00</text><rect x="5" y="87.3" width="41" height="5.7" rx="2.8" fill="#b5b5b5"/><circle cx="8" cy="90.1" r="2.8" fill="#8a8a8a"/><circle cx="43" cy="90.1" r="2.8" fill="#8a8a8a"/><text class="s2" x="8" y="91" textLength="73">9 10 11 12 13 14 15 16 17 18 19</text>
</g>
<g id="date-3" transform="translate(2404 405)">
<use href="#dpanel"/><text class="s3" x="5" y="11">Date Selection</text><text class="s3 m" x="43.3" y="19.4">20 October 2023</text>
<path class="img" d="M16 46H39V57.7H16ZM39.3 57.7L51 46V57.7ZM51 46H63V57.7H51ZM63 57.7L74 46V57.7ZM74 46H84V57.7H74Z"/>
<rect x="39.3" y="45" width="11.7" height="13" fill="none" stroke="#333" stroke-width="1"/>
<text class="s3" x="5" y="84">Time Selection</text><text class="s2 e" x="84" y="84">14:00 - 18:00</text><text class="s2" x="8" y="91" textLength="73">9 10 11 12 13 14 15 16 17 18 19</text>
</g>
<g id="date-4" transform="translate(2404 519)">
<use href="#dpanel"/><text class="s3" x="5" y="11">Date Selection</text><text class="s3 m" x="43.3" y="19.4">20 October 2023</text>
<path class="img" d="M16 46H39V57.7H16ZM39.3 57.7L51 46V57.7ZM51 46H63V57.7H51ZM63 57.7L74 46V57.7ZM74 46H84V57.7H74Z"/>
<rect x="39.3" y="45" width="11.7" height="13" fill="none" stroke="#333" stroke-width="1"/>
<text class="s3" x="5" y="84">Time Selection</text><text class="s2 e" x="84" y="84">14:00 - 18:00</text><rect x="43" y="87.3" width="38" height="5.7" rx="2.8" fill="#b5b5b5"/><circle cx="46" cy="90.1" r="2.8" fill="#8a8a8a"/><circle cx="78" cy="90.1" r="2.8" fill="#8a8a8a"/><text class="s2" x="8" y="91" textLength="73">9 10 11 12 13 14 15 16 17 18 19</text>
</g>

<!-- SIGN-UP FLOW -->
<g id="signin">
<rect class="in" x="150" y="1177.7" width="91.6" height="9.8"/><rect class="in" x="150" y="1187.5" width="91.6" height="9.8"/>
<text class="s45" x="153" y="1184.3">Email</text><text class="s45" x="153" y="1194">Password</text>
<rect class="g" x="150" y="1211.3" width="91.6" height="16.4"/><text class="s7 m" x="194.3" y="1222">Sign In</text>
<text class="s4 m" x="197.4" y="1236.2">Don't have an account?</text><text class="s4 m gr" x="197.4" y="1243.2">Create account</text>
</g>
<g id="email">
<text class="s45" x="331" y="1185.6">Please Enter Your Email</text><rect class="in" x="331" y="1187.3" width="92.3" height="10"/>
<rect class="g" x="331" y="1206" width="92.3" height="16.7"/><text class="s7 m" x="375.5" y="1217">Continue</text>
</g>
<g id="signup">
<text class="b" style="font-size:7px" x="509" y="1112.8">Sign Up</text>
<text class="s45" x="509" y="1135.3">First Name</text><rect class="in" x="508.6" y="1137.3" width="91.9" height="10"/>
<text class="s45" x="509" y="1160.6">Last Name</text><rect class="in" x="508.6" y="1162.5" width="91.9" height="10"/>
<text class="s45" x="509" y="1185.6">Phone Number</text><rect class="in" x="508.6" y="1187.5" width="91.9" height="10"/>
<text class="s45" x="509" y="1210.6">Date of Birth</text><rect class="in" x="508.6" y="1212.5" width="91.9" height="10"/>
<text class="s45" x="509" y="1235.9">Address</text><rect class="in" x="508.6" y="1238" width="91.9" height="10"/>
<text class="s45" x="509" y="1261.3">City</text><rect class="in" x="508.6" y="1263.3" width="91.9" height="10"/>
<text class="s45" x="509" y="1286.6">State</text><rect class="in" x="508.6" y="1288.5" width="91.9" height="10"/>
<text class="s45" x="509" y="1311.6">Zip Code</text><rect class="in" x="508.6" y="1313.5" width="91.9" height="10"/>
<text class="s45" x="509" y="1336.6">Password</text><rect class="in" x="508.6" y="1338.5" width="91.9" height="10"/>
<text class="s45" x="509" y="1361.6">Confirm Password</text><rect class="in" x="508.6" y="1363.5" width="91.9" height="10"/>
<rect class="g" x="508.6" y="1381.3" width="91.9" height="15.4"/><text class="s7 m" x="554.5" y="1391.5">Create Account</text>
</g>
<g id="success">
<text class="s45" x="685" y="1180.6">Success! We're almost done.</text><text class="s45" x="685" y="1194.6">We sent an email to ______.</text>
<text class="s45" x="685" y="1208.6">Please click on the link in your email</text><text class="s45" x="685" y="1215.6">to complete your sign-up and finish</text><text class="s45" x="685" y="1222.6">your reservation!</text>
</g>
<g id="reservation">
<text class="b" style="font-size:6.8px" x="859.3" y="1112.8">Reservation Information</text>
<rect class="l" x="859" y="1123" width="92" height="38"/><text class="s45" x="863.3" y="1133">Your Info</text><path class="ln" d="M863.3 1140.3H917.3M863.3 1147.3H902M863.3 1154.3H926"/>
<rect class="l" x="859" y="1170.3" width="92" height="53"/><text class="s45" x="863.3" y="1180.6">Booking Information</text><path class="ln" d="M863.3 1187.3H917.3M863.3 1194.3H902M887 1201.3H940.3"/><text class="s45" x="863.3" y="1201.6">Total: $41</text>
<rect class="g" x="863.3" y="1209" width="83.7" height="8.7"/><text class="s45 m" x="905" y="1215">Add Booking</text>
<text class="s45" x="859" y="1239">Rules and Regulations</text><text class="s45" x="859" y="1246">Please read before booking</text>
<rect x="860" y="1255" width="7.7" height="7.7" fill="#fff" stroke="#aaa" stroke-width=".7"/><text class="s2" x="870.3" y="1259.3" textLength="80">I have read and understood all SF Parks and Rec Regulations</text>
<rect x="859.3" y="1278.3" width="91.4" height="79.4" fill="#fff" stroke="#aaa" stroke-width="1"/><text class="s45" x="863" y="1289.3">Waiver</text><text class="s4" x="863.3" y="1300.4">Please read the waiver...</text><path class="ln" d="M863.3 1306.3H910M863.3 1312H918.3M863.3 1318.3H897"/>
<rect x="863.3" y="1326" width="7.4" height="7.7" fill="#fff" stroke="#aaa" stroke-width=".7"/><text class="s2" x="873.3" y="1330.3">I have read and agree to the <tspan class="gr">Terms and Conditions</tspan></text>
<rect x="863.3" y="1339" width="7.4" height="7.7" fill="#fff" stroke="#aaa" stroke-width=".7"/><text class="s2" x="873.3" y="1343.3">I have read and agree to the <tspan class="gr">Registration Waiver</tspan></text>
<rect x="859.3" y="1362.7" width="91.4" height="12.6" fill="#8a8a8a"/><text class="s7 m" x="905" y="1371.5" style="fill:#e8e8e8">Check Out</text>
</g>
<g id="checkout">
<text class="b" style="font-size:6.8px" x="1038.7" y="1112.8">Check Out</text>
<rect class="l" x="1038.7" y="1123" width="91.6" height="162"/><text class="s45" x="1043" y="1132">Payment Information</text><path class="ln" d="M1043 1139.3H1096.7M1043 1146.3H1081.7M1043 1153H1105.3"/>
<text class="s45" x="1043" y="1170.6">Name on Card</text><rect class="in" x="1043" y="1172.7" width="84" height="9.6"/>
<text class="s45" x="1043" y="1195.6">Card Number</text><rect class="in" x="1043" y="1197.7" width="84" height="9.6"/>
<text class="s45" x="1043" y="1221">Expiration Date</text><text class="s45" x="1086.3" y="1221">CVV</text><rect class="in" x="1043" y="1223.3" width="38.7" height="9.4"/><rect class="in" x="1086.3" y="1223.3" width="38.4" height="9.4"/>
<rect x="1043" y="1239.3" width="7.3" height="7.4" fill="#ebebeb" stroke="#999" stroke-width=".7"/><text class="s45" x="1054" y="1244">Save card for future use</text>
<text class="s45" x="1043" y="1257.6">Address</text><path class="ln" d="M1043 1265H1096.7M1043 1272H1081.7M1043 1279H1105.3"/>
<rect class="l" x="1038.7" y="1293" width="91.6" height="48.7"/><text class="s45" x="1043" y="1301.6">Order Summary</text><path class="ln" d="M1043 1309.3H1097M1043 1316.3H1081.7"/>
<rect x="1043" y="1326" width="84" height="12.7" fill="#9a9a9a"/><text class="s7 m" x="1085" y="1334.8" style="fill:#e8e8e8">Pay</text>
</g>
<g id="confirmation">
<text class="b" style="font-size:6.8px" x="1218.3" y="1112.8">Confirmation</text>
<rect class="l" x="1218" y="1123" width="92" height="49.7"/><text class="s45" x="1222.3" y="1132">Thanks, your reservation has been</text><text class="s45" x="1222.3" y="1139">made!</text>
<text class="s3" x="1222.3" y="1152">You will receive a confirmation email shortly</text><text class="s3 gr" x="1222.3" y="1164">View reservation in portal</text>
</g>
</svg>
